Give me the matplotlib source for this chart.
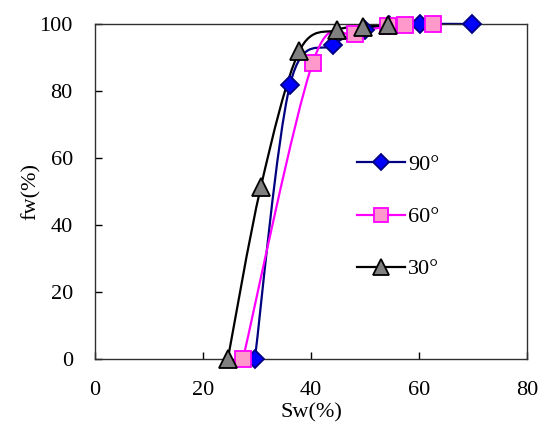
import numpy as np
import matplotlib
matplotlib.use("Agg")
import matplotlib.pyplot as plt
from matplotlib.path import Path
from matplotlib.patches import PathPatch
from matplotlib.lines import Line2D

plt.rcParams['font.family'] = ['Liberation Serif', 'DejaVu Serif']

# 含水率 Sw(%) 与含水率 fw(%)，三种角度
sw_90 = [29.6, 36.1, 44.1, 50.0, 54.5, 60.2, 69.8]
fw_90 = [0, 81.8, 93.8, 98.3, 99.6, 100, 100]
sw_60 = [27.4, 40.3, 48.2, 54.3, 57.4, 62.6]
fw_60 = [0, 88.4, 96.9, 99.3, 99.8, 100]
sw_30 = [24.6, 30.7, 37.8, 44.8, 49.6, 54.3]
fw_30 = [0, 51.3, 91.8, 98.2, 99.2, 99.6]
labels = ["90°", "60°", "30°"]


def smooth_path(x, y):
    # Catmull-Rom -> Bezier, как сглаженная линия в Excel
    pts = np.column_stack([x, y]).astype(float)
    verts = [pts[0]]
    codes = [Path.MOVETO]
    n = len(pts)
    for i in range(n - 1):
        p0 = pts[i - 1] if i > 0 else pts[i]
        p1 = pts[i]
        p2 = pts[i + 1]
        p3 = pts[i + 2] if i + 2 < n else pts[i + 1]
        c1 = p1 + (p2 - p0) / 6.0
        c2 = p2 - (p3 - p1) / 6.0
        verts += [c1, c2, p2]
        codes += [Path.CURVE4] * 3
    return Path(verts, codes)


series = [
    (sw_90, fw_90, dict(color="#000080", marker="D", mfc="#0000FF", mec="#000080", ms=9.5)),
    (sw_60, fw_60, dict(color="#FF00FF", marker="s", mfc="#FF99CC", mec="#FF00FF", ms=11.5)),
    (sw_30, fw_30, dict(color="#000000", marker="^", mfc="#808080", mec="#000000", ms=13)),
]

fig = plt.figure(figsize=(5.5, 4.37), dpi=100)
ax = fig.add_axes([95 / 550, 1 - 359 / 437, 432 / 550, 335 / 437])

handles = []
for (x, y, st), lab in zip(series, labels):
    patch = PathPatch(smooth_path(x, y), facecolor="none", edgecolor=st["color"],
                      lw=1.6, clip_on=False, zorder=2)
    ax.add_patch(patch)
    ax.plot(x, y, ls="none", marker=st["marker"], mfc=st["mfc"], mec=st["mec"],
            mew=1.3, ms=st["ms"], clip_on=False, zorder=3)
    handles.append(Line2D([], [], color=st["color"], lw=1.6, marker=st["marker"],
                          mfc=st["mfc"], mec=st["mec"], mew=1.3, ms=st["ms"] * 0.85))

ax.set_xlim(0, 80)
ax.set_ylim(0, 100)
ax.set_xticks([0, 20, 40, 60, 80])
ax.set_yticks([0, 20, 40, 60, 80, 100])
ax.tick_params(direction="in", length=5, width=1, labelsize=16, pad=16,
               top=False, right=False)
for s in ax.spines.values():
    s.set_linewidth(1.0)
    s.set_color("#303030")

ax.set_xlabel("Sw(%)", fontsize=16)
ax.set_ylabel("fw(%)", fontsize=16)
ax.xaxis.set_label_coords(0.5, -0.133)
ax.yaxis.set_label_coords(-0.125, 0.5)

ax.legend(handles, labels, loc="upper left", bbox_to_anchor=(0.606, 0.61),
          frameon=False, fontsize=16, handlelength=2.15, handletextpad=0.15,
          labelspacing=1.42, borderaxespad=0, borderpad=0)

fig.savefig("out.png", dpi=100)
